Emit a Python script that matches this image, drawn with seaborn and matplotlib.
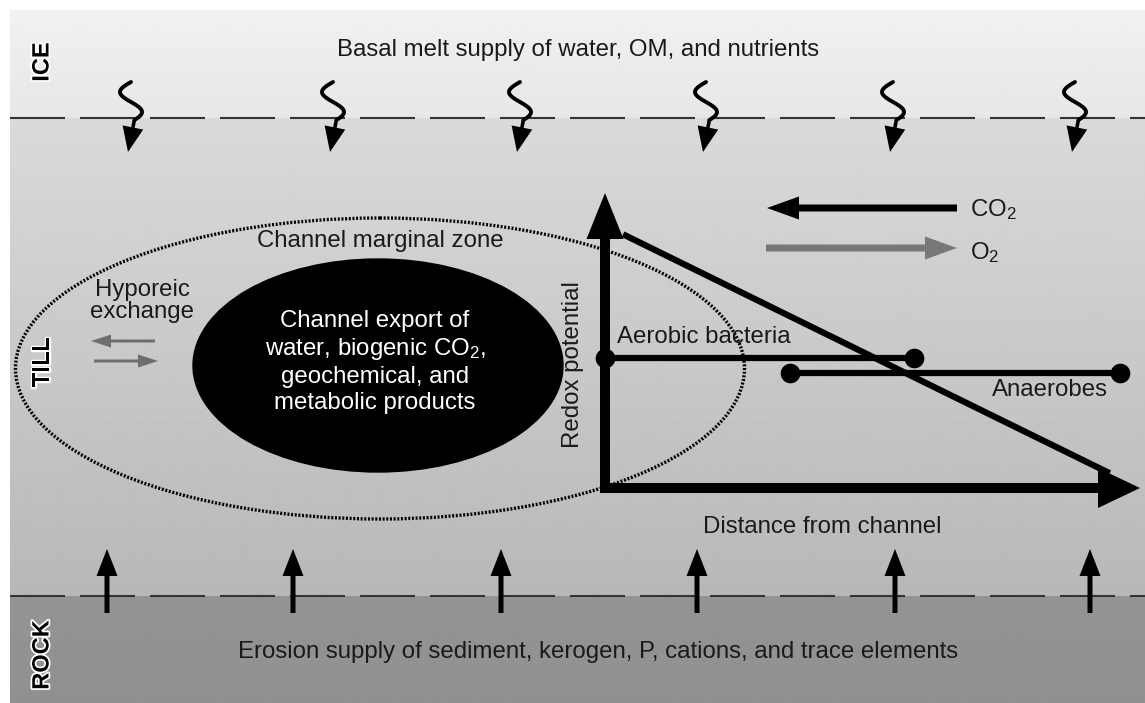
import numpy as np
import pandas as pd
import matplotlib
matplotlib.use('Agg')
import matplotlib.pyplot as plt
from matplotlib.patches import Ellipse
import matplotlib.patheffects as pe
import seaborn as sns

# Text content
layer_names = ['ICE', 'TILL', 'ROCK']
top_text = 'Basal melt supply of water, OM, and nutrients'
bottom_text = 'Erosion supply of sediment, kerogen, P, cations, and trace elements'
channel_text = 'Channel export of\nwater, biogenic CO$_2$,\ngeochemical, and\nmetabolic products'
margin_text = 'Channel marginal zone'
hyporeic_text = 'Hyporeic\nexchange'
gas_labels = ['CO$_2$', 'O$_2$']

# Redox schematic (axis fractions: distance from channel, redox potential)
redox_dist = [0.035, 0.98]
redox_level = [0.86, 0.05]
aerobic_dist = [0.0, 0.60]
aerobic_level = [0.44, 0.44]
anaerobe_dist = [0.36, 1.0]
anaerobe_level = [0.39, 0.39]

# Layout (pixels of the 1145x703 canvas)
W, H = 1145, 703
melt_x = [128, 330, 517, 703, 890, 1072]
erosion_x = [107, 293, 501, 697, 895, 1090]
ice_till = 118
till_rock = 596
FS = 17.3

sns.set_theme(style='white')
plt.rcParams['font.family'] = ['Liberation Sans', 'DejaVu Sans']
plt.rcParams['mathtext.fontset'] = 'custom'
plt.rcParams['mathtext.rm'] = 'Liberation Sans'
plt.rcParams['mathtext.it'] = 'Liberation Sans'

fig = plt.figure(figsize=(W / 100, H / 100), dpi=100)
fig.patch.set_facecolor('white')
ax = fig.add_axes([0, 0, 1, 1])
ax.set_xlim(0, W)
ax.set_ylim(H, 0)
ax.axis('off')

# background layers as vertical gradients
rows = np.arange(10, H) + 0.5
stops = [10, ice_till, ice_till + 0.01, till_rock, till_rock + 0.01, H]
grays = [0.945, 0.905, 0.855, 0.72, 0.58, 0.565]
g = np.interp(rows, stops, grays)
ax.imshow(np.tile(g[:, None], (1, 4)), cmap='gray', vmin=0, vmax=1,
          extent=[10, W, H, 10], aspect='auto', interpolation='bilinear', zorder=0)

# dashed boundaries
for yb in [ice_till, till_rock]:
    ax.plot([10, W], [yb, yb], color='#333333', lw=1.5,
            linestyle=(0, (26.4, 7.2)), zorder=1)

# layer labels
txt_fx = [pe.withStroke(linewidth=2.5, foreground='white')]
for name, yl in zip(layer_names, [62, 362, 655]):
    ax.text(42, yl, name, rotation=90, ha='center', va='center', fontsize=17,
            fontweight='bold', color='black', path_effects=txt_fx, zorder=5)

txt_kw = dict(fontsize=FS, color='#1a1a1a', ha='center', va='center', zorder=5)
ax.text(578, 50, top_text, **txt_kw)
ax.text(598, 652, bottom_text, **txt_kw)


# squiggly melt arrows
def squiggle(x0):
    t = np.linspace(0, 0.95, 80)
    xs = x0 + 3 - 11 * np.sin(2 * np.pi * t)
    ys = 82 + 40 * t
    ax.plot(xs, ys, color='black', lw=2.8, solid_capstyle='round', zorder=4)
    ax.arrow(xs[-1], ys[-1], x0 - xs[-1], 152 - ys[-1], width=3.6,
             head_width=21, head_length=25, length_includes_head=True,
             color='black', lw=0, zorder=4)


for x0 in melt_x:
    squiggle(x0)

# erosion arrows
for x0 in erosion_x:
    ax.arrow(x0, 613, 0, -64, width=5, head_width=21, head_length=27,
             length_includes_head=True, color='black', lw=0, zorder=4)

# channel marginal zone (dotted) and channel
ax.add_patch(Ellipse((380, 368.5), 729, 301, fill=False, edgecolor='black',
                     lw=2.4, linestyle=(0, (0.6, 0.5)), zorder=3))
ax.add_patch(Ellipse((378, 365.5), 370, 213, facecolor='black',
                     edgecolor='black', zorder=3))
ax.text(380, 241, margin_text, **txt_kw)
ax.text(375, 362, channel_text, fontsize=FS, color='white', ha='center',
        va='center', linespacing=1.22, zorder=5)

# hyporeic exchange
ax.text(142, 301, hyporeic_text, fontsize=FS, color='#1a1a1a', ha='center',
        va='center', linespacing=0.98, zorder=5)
ax.arrow(155, 341, -64, 0, width=3, head_width=13, head_length=20,
         length_includes_head=True, color='#6e6e6e', lw=0, zorder=4)
ax.arrow(94, 361, 64, 0, width=3, head_width=13, head_length=20,
         length_includes_head=True, color='#6e6e6e', lw=0, zorder=4)

# CO2 / O2 arrows
ax.arrow(957, 208, -190, 0, width=7, head_width=23, head_length=32,
         length_includes_head=True, color='black', lw=0, zorder=4)
ax.arrow(766, 248, 191, 0, width=7, head_width=23, head_length=32,
         length_includes_head=True, color='#777777', lw=0, zorder=4)
ax.text(970, 210, gas_labels[0], fontsize=FS, color='#1a1a1a', ha='left',
        va='center', zorder=5)
ax.text(970, 253, gas_labels[1], fontsize=FS, color='#1a1a1a', ha='left',
        va='center', zorder=5)

# redox axes arrows
ax.arrow(605, 493, 0, -300, width=10, head_width=37, head_length=46,
         length_includes_head=True, color='black', lw=0, zorder=4)
ax.arrow(600, 488, 540, 0, width=10, head_width=40, head_length=42,
         length_includes_head=True, color='black', lw=0, zorder=4)
ax.text(573, 365, 'Redox potential', rotation=90, **txt_kw)
ax.text(822, 527, 'Distance from channel', **txt_kw)
ax.text(617, 337, 'Aerobic bacteria', fontsize=FS, color='#1a1a1a',
        ha='left', va='center', zorder=5)
ax.text(1050, 390, 'Anaerobes', **txt_kw)

# redox schematic drawn on its own axes
rx = fig.add_axes([605 / W, (H - 488) / H, (1120 - 605) / W, (488 - 193) / H])
rx.set_xlim(0, 1)
rx.set_ylim(0, 1)
rx.axis('off')
rx.patch.set_alpha(0)

redox = pd.DataFrame({'distance': redox_dist, 'redox': redox_level})
aer = pd.DataFrame({'distance': aerobic_dist, 'redox': aerobic_level})
ana = pd.DataFrame({'distance': anaerobe_dist, 'redox': anaerobe_level})

sns.lineplot(data=redox, x='distance', y='redox', ax=rx, color='black',
             lw=4.5, solid_capstyle='butt', clip_on=False)
for d in [aer, ana]:
    sns.lineplot(data=d, x='distance', y='redox', ax=rx, color='black',
                 lw=4.5, clip_on=False)
    sns.scatterplot(data=d, x='distance', y='redox', ax=rx, color='black',
                    s=200, edgecolor='black', linewidth=0, clip_on=False, zorder=5)
rx.set_xlabel('')
rx.set_ylabel('')

fig.savefig('out.png', dpi=100)
